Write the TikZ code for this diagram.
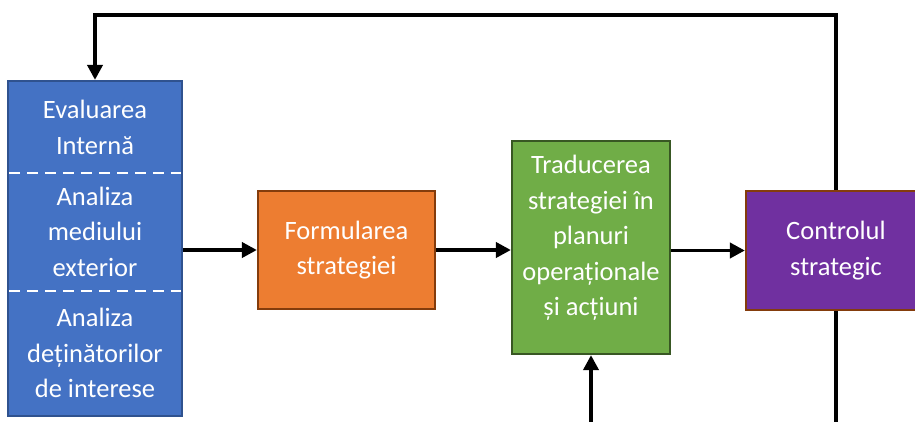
\documentclass[tikz,border=0pt]{standalone}
\usepackage{fontspec}
\setmainfont{Carlito}
\usetikzlibrary{arrows.meta}
\definecolor{cblue}{HTML}{4472C4}
\definecolor{cblueB}{HTML}{2F528F}
\definecolor{corange}{HTML}{ED7D31}
\definecolor{cbrown}{HTML}{843C0C}
\definecolor{cgreen}{HTML}{70AD47}
\definecolor{cgreenB}{HTML}{385723}
\definecolor{cpurple}{HTML}{7030A0}
\tikzset{
  box/.style={draw, line width=2.2pt, minimum width=#1, inner sep=0pt},
  lbl/.style={text=white, align=center, font=\fontsize{26.5}{35.5}\selectfont},
  arr/.style={line width=3.8pt, -{Triangle[length=15pt,width=15pt]}},
  wire/.style={line width=3.8pt},
  sep/.style={white, line width=2pt, dash pattern=on 11pt off 7pt},
}
\begin{document}
\begin{tikzpicture}[x=1pt,y=-1pt]
\useasboundingbox (0,0) rectangle (915,421);
\clip (0,0) rectangle (915,421);
\fill[white] (0,0) rectangle (915,421);

% assessment column
\node[box=174pt, minimum height=335pt, fill=cblue, draw=cblueB] (blue) at (95,248.5) {};
\node[lbl] (t1) at (95,127.5) {Evaluarea\\Internă};
\node[lbl] (t2) at (95,231.5) {Analiza\\mediului\\exterior};
\node[lbl] (t3) at (95,353) {Analiza\\deținătorilor\\de interese};
\coordinate (d1) at (blue.west |- 0,173);
\coordinate (d2) at (blue.west |- 0,291);
\draw[sep] ([xshift=2pt]d1) -- ([xshift=-2pt]blue.east |- d1);
\draw[sep] ([xshift=2pt]d2) -- ([xshift=-2pt]blue.east |- d2);

% process boxes
\node[box=177pt, minimum height=118pt, fill=corange, draw=cbrown, lbl] (form) at (346.5,250) {Formularea\\strategiei};
\node[box=158pt, minimum height=213pt, fill=cgreen, draw=cgreenB] (trad) at (591,247.5) {};
\node[lbl] (tradt) at (591,238) {Traducerea\\strategiei în\\planuri\\operaționale\\și acțiuni};
\node[box=180pt, minimum height=119pt, fill=cpurple, draw=cbrown, lbl] (ctrl) at (836,250.5) {Controlul\\strategic};

% main flow
\draw[arr] (blue.east |- form.west) -- (form.west);
\draw[arr] (form.east) -- (trad.west |- form.east);
\draw[arr] (trad.east |- ctrl.west) -- (ctrl.west);

% feedback loop over the top
\coordinate (loopR) at (836,15);
\coordinate (loopL) at (95,15);
\draw[arr] (ctrl.north) -- (loopR) -- (loopL) -- (blue.north);

% lines leaving the bottom edge
\coordinate (outB) at (836,430);
\draw[wire] (ctrl.south) -- (outB);
\coordinate (inB) at (591,430);
\draw[arr] (inB) -- (trad.south);
\end{tikzpicture}
\end{document}
